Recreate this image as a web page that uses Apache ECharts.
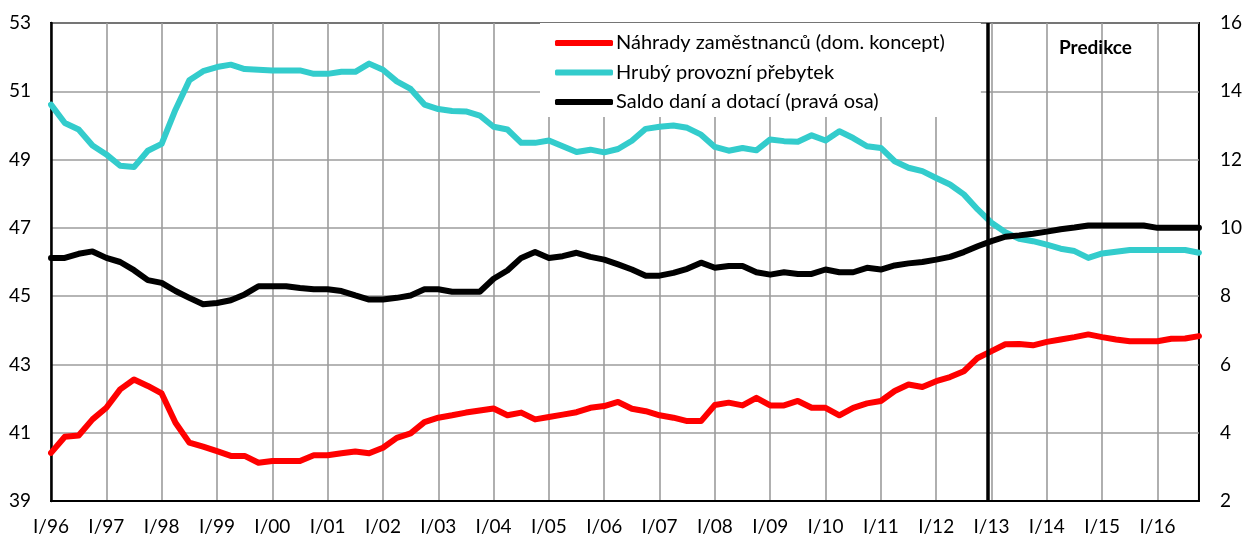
<!DOCTYPE html>
<html>
<head>
<meta charset="utf-8">
<script src="https://cdn.jsdelivr.net/npm/echarts@6/dist/echarts.min.js"></script>
<style>
  html, body { margin: 0; padding: 0; background: #fff; }
  #chart { width: 1245px; height: 538px; }
</style>
</head>
<body>
<div id="chart"></div>
<script>
// quarters I/96 .. IV/16
var years = ['96', '97', '98', '99', '00', '01', '02', '03', '04', '05', '06',
             '07', '08', '09', '10', '11', '12', '13', '14', '15', '16'];
var quarterNames = ['I', 'II', 'III', 'IV'];
var categories = [];
years.forEach(function (y) {
    quarterNames.forEach(function (q) { categories.push(q + '/' + y); });
});

// Náhrady zaměstnanců (dom. koncept), left axis
var nahrady = [
    40.41, 40.88, 40.92, 41.39, 41.73, 42.27, 42.56, 42.37, 42.15, 41.29, 40.71, 40.59, 40.46, 40.32, 40.32,
    40.12, 40.17, 40.17, 40.17, 40.34, 40.34, 40.40, 40.45, 40.40, 40.56, 40.85, 40.98, 41.31, 41.44,
    41.51, 41.59, 41.65, 41.71, 41.51, 41.59, 41.39, 41.46, 41.53, 41.60, 41.73, 41.78, 41.90, 41.70,
    41.63, 41.51, 41.44, 41.34, 41.34, 41.81, 41.88, 41.80, 42.02, 41.80, 41.80, 41.93, 41.73, 41.73,
    41.51, 41.73, 41.86, 41.93, 42.22, 42.41, 42.34, 42.51, 42.63, 42.80, 43.19, 43.39, 43.59, 43.60,
    43.56, 43.66, 43.73, 43.80, 43.88, 43.80, 43.73, 43.68, 43.68, 43.68, 43.75, 43.76, 43.83
];

// Hrubý provozní přebytek, left axis
var prebytek = [
    50.61, 50.07, 49.88, 49.41, 49.15, 48.82, 48.78, 49.26, 49.46, 50.46, 51.32, 51.59, 51.71, 51.78, 51.65,
    51.63, 51.61, 51.61, 51.61, 51.51, 51.51, 51.57, 51.57, 51.81, 51.63, 51.29, 51.07, 50.61, 50.48,
    50.42, 50.41, 50.29, 49.96, 49.88, 49.49, 49.49, 49.56, 49.39, 49.22, 49.29, 49.21, 49.31, 49.55,
    49.90, 49.96, 50.00, 49.93, 49.73, 49.37, 49.26, 49.34, 49.27, 49.59, 49.54, 49.52, 49.71, 49.56,
    49.83, 49.63, 49.39, 49.34, 48.95, 48.76, 48.66, 48.46, 48.27, 47.98, 47.54, 47.15, 46.87, 46.68,
    46.61, 46.51, 46.39, 46.32, 46.12, 46.25, 46.30, 46.35, 46.35, 46.35, 46.35, 46.35, 46.27
];

// Saldo daní a dotací, right axis
var saldo = [
    9.12, 9.12, 9.24, 9.31, 9.12, 9.00, 8.76, 8.47, 8.39, 8.15, 7.95, 7.76, 7.80, 7.88, 8.05,
    8.29, 8.29, 8.29, 8.24, 8.20, 8.20, 8.15, 8.02, 7.90, 7.90, 7.95, 8.02, 8.20, 8.20,
    8.13, 8.13, 8.13, 8.51, 8.75, 9.12, 9.29, 9.12, 9.17, 9.27, 9.15, 9.07, 8.93, 8.78,
    8.60, 8.60, 8.68, 8.80, 8.98, 8.83, 8.88, 8.88, 8.70, 8.63, 8.70, 8.65, 8.65, 8.78,
    8.70, 8.70, 8.83, 8.78, 8.90, 8.96, 9.00, 9.07, 9.15, 9.29, 9.46, 9.61, 9.74, 9.78,
    9.83, 9.89, 9.96, 10.01, 10.07, 10.07, 10.07, 10.07, 10.07, 10.00, 10.00, 10.00, 10.00
];

var seriesNames = ['Náhrady zaměstnanců (dom. koncept)', 'Hrubý provozní přebytek', 'Saldo daní a dotací (pravá osa)'];
var forecastStart = 67.7; // position of the forecast divider, in quarters from I/96

var font = 'Lato';
var chart = echarts.init(document.getElementById('chart'));

function lineSeries(name, data, color, yIdx) {
    return {
        name: name,
        type: 'line',
        data: data,
        yAxisIndex: yIdx,
        showSymbol: false,
        symbol: 'none',
        smooth: false,
        lineStyle: { color: color, width: 6, cap: 'round', join: 'round' },
        itemStyle: { color: color },
        emphasis: { disabled: true }
    };
}

chart.setOption({
    animation: false,
    textStyle: { fontFamily: font },
    grid: {
        left: 51, right: 45, top: 23, bottom: 37,
        show: true, borderColor: '#000', borderWidth: 2, backgroundColor: '#fff'
    },
    title: {
        text: 'Predikce',
        left: 1054, top: 33,
        textStyle: { fontFamily: font, fontWeight: 'bold', fontSize: 19, color: '#000' }
    },
    legend: {
        data: seriesNames,
        orient: 'vertical',
        left: 540, top: 23,
        padding: [10, 36, 5, 15],
        backgroundColor: '#fff',
        icon: 'roundRect',
        itemWidth: 58, itemHeight: 6,
        itemGap: 9.5,
        textStyle: { fontFamily: font, fontSize: 20, color: '#000', lineHeight: 20, padding: [0, 0, 0, -2] }
    },
    xAxis: [{
        type: 'category',
        data: categories,
        boundaryGap: false,
        axisLine: { show: true, lineStyle: { color: '#000', width: 2 } },
        axisTick: { show: false },
        axisLabel: { interval: 3, margin: 16, fontSize: 19, color: '#000', fontFamily: font },
        splitLine: { show: true, interval: 3, lineStyle: { color: '#9c9c9c', width: 1.6 } }
    }, {
        type: 'value',
        min: 0, max: categories.length - 1,
        show: false
    }],
    yAxis: [{
        type: 'value',
        min: 39, max: 53, interval: 2,
        axisLine: { show: true, lineStyle: { color: '#000', width: 2.5 } },
        axisTick: { show: false },
        axisLabel: { margin: 20, fontSize: 19, color: '#000', fontFamily: font },
        splitLine: { show: true, lineStyle: { color: '#9c9c9c', width: 1.6 } }
    }, {
        type: 'value',
        min: 2, max: 16, interval: 2,
        position: 'right',
        axisLine: { show: false },
        axisTick: { show: false },
        axisLabel: { margin: 21, fontSize: 19, color: '#000', fontFamily: font },
        splitLine: { show: false }
    }],
    series: [
        lineSeries(seriesNames[0], nahrady, '#ff0000', 0),
        lineSeries(seriesNames[1], prebytek, '#33cccc', 0),
        lineSeries(seriesNames[2], saldo, '#000000', 1),
        {
            type: 'line',
            xAxisIndex: 1,
            yAxisIndex: 0,
            data: [],
            silent: true,
            markLine: {
                silent: true,
                symbol: 'none',
                label: { show: false },
                lineStyle: { color: '#000', width: 3.5, type: 'solid' },
                data: [{ xAxis: forecastStart }]
            }
        }
    ]
});
</script>
</body>
</html>
